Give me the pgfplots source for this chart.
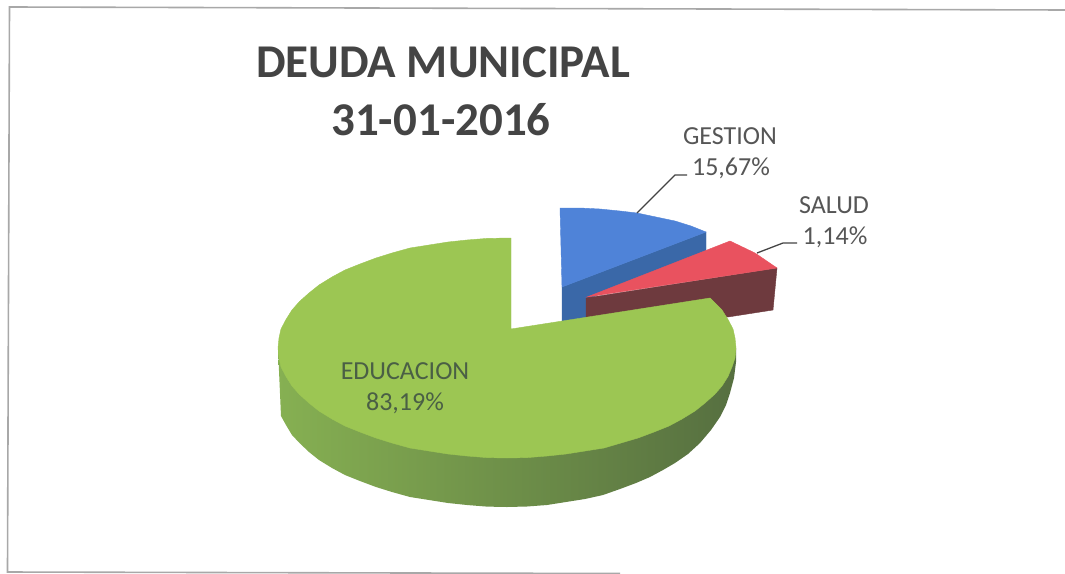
\documentclass[border=0pt]{standalone}
\usepackage{fontspec}
\setmainfont{Carlito}
\usepackage{pgfplots}
\pgfplotsset{compat=1.18}
\definecolor{greentop}{HTML}{9CC653}
\definecolor{greenL}{HTML}{86B052}
\definecolor{greenM}{HTML}{66864C}
\definecolor{greenR}{HTML}{566F40}
\definecolor{bluetop}{HTML}{4F83D8}
\definecolor{blueside}{HTML}{3A68A8}
\definecolor{redtop}{HTML}{E9525F}
\definecolor{redside}{HTML}{6E3A3E}
\definecolor{ink}{HTML}{444444}
\definecolor{labelink}{HTML}{565656}
\definecolor{eduink}{HTML}{4A5F45}
\definecolor{frame}{HTML}{A8A8A8}
\begin{document}
\begin{tikzpicture}
\begin{axis}[
  hide axis, scale only axis, width=1065bp, height=573bp,
  xmin=0, xmax=1065, ymin=0, ymax=573, y dir=reverse, clip=true,
]
\addplot[fill=white,draw=none,forget plot] coordinates {(0,0) (1065,0) (1065,573) (0,573)} --cycle;
% frame of the chart area, the scan is slightly skewed
\addplot[frame,line width=1.6bp,forget plot] coordinates {(1065,10) (9.5,7) (7.5,572) (620,573.5)};
% gestion
\addplot[blueside,fill=blueside,forget plot] coordinates {(562,287) (706,232) (706,252) (590,298) (590,322) (562,322)} --cycle;
\addplot[bluetop,fill=bluetop,forget plot] coordinates {(560,208) (580,208) (600,209) (620,211) (637,213) (656,217) (675,221) (691,226) (706,232) (562,287)} --cycle;
% salud
\addplot[redside,fill=redside,forget plot] coordinates {(586,298) (777,268) (773,310) (728,317) (586,322)} --cycle;
\addplot[redtop,fill=redtop,forget plot] coordinates {(587,297) (730,241) (755,253) (777,268)} --cycle;
% educacion
\addplot[draw=none,left color=greenL,middle color=greenM,right color=greenR,forget plot] coordinates {
  (278,348) (281,416) (286,425) (292,435) (299.5,443) (309,452) (319,460) (332,468) (345,475) (360,481)
  (376,487) (392,492) (410,497) (429,500) (448,503) (467,505) (487,506.6) (507,507)
  (527,506.5) (547,505) (566,502) (585,499) (603,495) (620,489) (636,483) (650,477) (663,470)
  (675,463) (688,454) (700,443) (711,430) (720,417) (726,405) (730,393) (734,378) (736,362) (736,348)} --cycle;
\addplot[greentop,fill=greentop,forget plot] coordinates {
  (511,329) (511,238) (487,238.4) (467,240) (448,242) (429,245) (410,248) (392,253) (376,258) (360,264)
  (345,270) (332,277) (319,285) (309,293) (299.5,301.5) (292,310) (286,319.5) (281,329) (279,338)
  (278,348) (279,358) (281,367) (286,376.5) (292,386) (299.5,394.5) (309,403) (319,411) (332,419)
  (345,426) (360,432) (376,438) (392,443) (410,448) (429,451) (448,454) (467,456) (487,457.6) (507,458)
  (527,457.6) (547,456) (566,454) (585,451) (604,448) (621,443) (638,438) (654,432) (669,426) (682,419)
  (695,411) (705,403) (714.5,394.5) (722,386) (728,376.5) (732,367) (735,358) (736,348) (735,338) (733,329)
  (728,319.5) (722,310) (710,298)} --cycle;
% leader lines
\addplot[ink,line width=1.3bp,forget plot] coordinates {(637,213) (675,175) (687,175)};
\addplot[ink,line width=1.3bp,forget plot] coordinates {(757,253) (783,243) (797,243)};
% texts
\node[ink,font=\fontsize{47bp}{54bp}\selectfont\bfseries] at (axis cs:443,62) {DEUDA MUNICIPAL};
\node[ink,font=\fontsize{47bp}{54bp}\selectfont\bfseries] at (axis cs:441,120) {31-01-2016};
\node[labelink,font=\fontsize{26bp}{30bp}\selectfont] at (axis cs:730,136) {GESTION};
\node[labelink,font=\fontsize{26bp}{30bp}\selectfont] at (axis cs:731,168) {15,67\%};
\node[labelink,font=\fontsize{26bp}{30bp}\selectfont] at (axis cs:834,205) {SALUD};
\node[labelink,font=\fontsize{26bp}{30bp}\selectfont] at (axis cs:835,237) {1,14\%};
\node[eduink,font=\fontsize{26bp}{30bp}\selectfont] at (axis cs:405,371) {EDUCACION};
\node[eduink,font=\fontsize{26bp}{30bp}\selectfont] at (axis cs:405,403) {83,19\%};
\end{axis}
\end{tikzpicture}
\end{document}
